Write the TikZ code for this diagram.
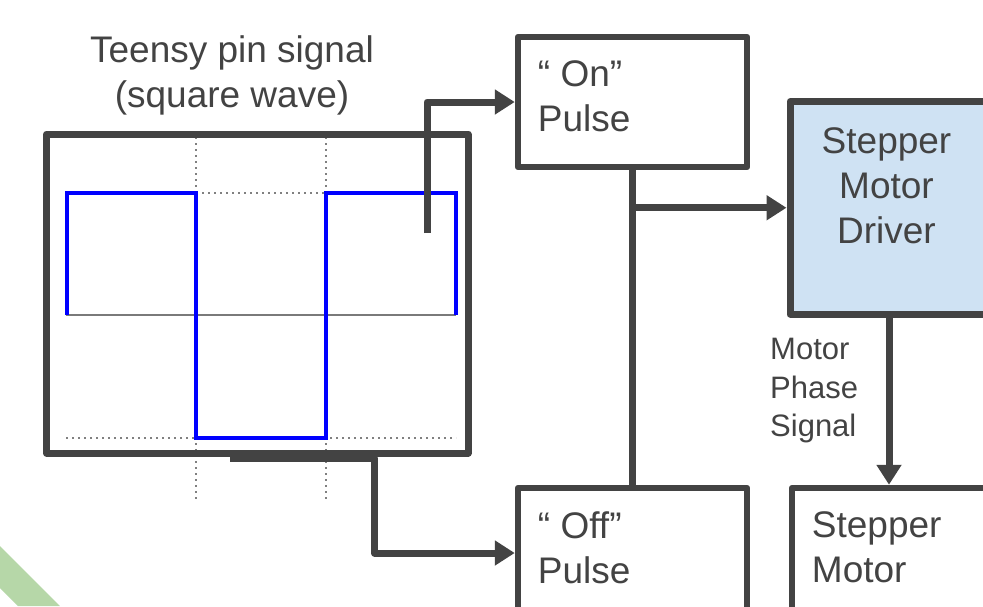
\documentclass[tikz,border=0pt]{standalone}
\usepackage{fontspec}
\setmainfont{Liberation Sans}
\definecolor{lineGray}{HTML}{434343}
\definecolor{gridGray}{HTML}{808080}
\definecolor{midGray}{HTML}{7A7A7A}
\definecolor{driverBlue}{HTML}{CFE2F3}
\definecolor{bandGreen}{HTML}{B6D7A8}
\usetikzlibrary{arrows.meta, positioning, calc}

\begin{document}
\begin{tikzpicture}[x=1pt, y=-1pt,
  every node/.style={font=\fontsize{37}{45}\selectfont, text=lineGray, inner sep=0pt},
  block/.style={draw=lineGray, line width=6.5pt, line join=round, fill=white, minimum width=229pt, minimum height=130pt},
  boxtext/.style={align=left, below right=27pt and 23pt of #1},
  conn/.style={draw=lineGray, line width=7pt, line join=round},
  arr/.style={-{Triangle[length=20pt,width=24pt]}},
  gridline/.style={gridGray, line width=2pt, dash pattern=on 2pt off 4pt},
  wave/.style={blue, line width=4pt}]
  \useasboundingbox (0,0) rectangle (983,606);
  \fill[bandGreen] (0,546) -- (60,606) -- (18,606) -- (0,588) -- cycle;

  % scope trace
  \draw[gridline] (196,131) -- (196,500);
  \draw[gridline] (326,131) -- (326,500);
  \draw[gridline] (196,192.5) -- (326,192.5);
  \draw[gridline] (66,438) -- (456,438);
  \node[draw=lineGray, line width=7pt, line join=round, minimum width=421.5pt, minimum height=319pt] (scopebox) at (257.25,293.5) {};
  \draw[midGray, line width=2pt] (66,315) -- (456,315);
  \draw[wave] (66.5,315) -- (66.5,193) -- (196,193) -- (196,438) -- (326,438) -- (326,193) -- (455.5,193) -- (455.5,315);
  \node[align=center, anchor=north] (title) at (232,35) {Teensy pin signal\\(square wave)};

  \node[block] (onbox) at (632.5,102) {};
  \node[block] (offbox) at (632.5,553) {};
  \node[block, fill=driverBlue, line width=7pt, minimum width=198pt, minimum height=212.5pt] (driver) at (889,207.75) {};
  \node[block, minimum width=194pt] (motor) at (889,553) {};

  \node[boxtext=onbox.north west] (ontext) {“ On”\\Pulse};
  \node[boxtext=offbox.north west] (offtext) {“ Off”\\Pulse};
  \node[align=center, below=29pt of driver.north, xshift=-2.5pt] (drivertext) {Stepper\\Motor\\Driver};
  \node[boxtext=motor.north west] (motortext) {Stepper\\Motor};
  \node[align=left, anchor=north west, font=\fontsize{31}{38.5}\selectfont] (phase) at (770,338) {Motor\\Phase\\Signal};

  \coordinate (pinout) at (427,233);
  \coordinate (scopetap) at (230,458);
  \draw[conn, arr] (pinout) |- (onbox.west);
  \draw[conn, arr] (scopetap) -- ++(144.5,0) |- (offbox.west);
  \draw[conn] (onbox.south) -- (offbox.north);
  \draw[conn, arr] (onbox.south |- driver.west) -- (driver.west);
  \draw[conn, arr] (driver.south) -- (motor.north);
\end{tikzpicture}
\end{document}
